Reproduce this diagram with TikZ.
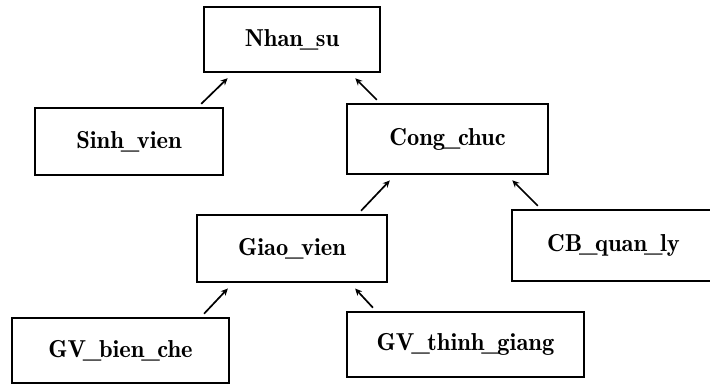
\documentclass[tikz,border=0pt]{standalone}
\usepackage{fontspec}
\setmainfont{Latin Modern Roman}
\newfontfamily\demifont{Latin Modern Roman Demi}
\usetikzlibrary{arrows.meta}
\tikzset{>={Stealth[length=7pt, width=6.5pt]}}
\newcommand\us{\kern-0.13em\_\kern-0.1em}
\tikzset{
  cls/.style={draw, line width=1.3pt, inner sep=0pt, font=\fontsize{24.5}{29}\demifont},
  isa/.style={->, line width=1.7pt, shorten <=5pt, shorten >=8pt}
}

\begin{document}
\begin{tikzpicture}[x=1pt, y=-1pt]
\clip (0,0) rectangle (710,385);
\node[cls, minimum width=176pt, minimum height=65pt] (nhan) at (292,39.5) {Nhan\us su};
\node[cls, minimum width=188pt, minimum height=67pt] (sinh) at (129,141.5) {Sinh\us vien};
\node[cls, minimum width=201pt, minimum height=70pt] (cong) at (447.5,139) {Cong\us chuc};
\node[cls, minimum width=190pt, minimum height=67pt] (giao) at (292,248.5) {Giao\us vien};
\node[cls, minimum width=203pt, minimum height=71pt] (cb) at (613.5,245.5) {CB\us quan\us ly};
\node[cls, minimum width=217pt, minimum height=65pt] (gvbc) at (120.5,350.5) {GV\us bien\us che};
\node[cls, minimum width=237pt, minimum height=65pt] (gvtg) at (465.5,344.5) {GV\us thinh\us giang};
% arrows to the parent class
\draw[isa] ([xshift=-26pt]sinh.north east) -- ([xshift=30pt]nhan.south west);
\draw[isa] ([xshift=34pt]cong.north west) -- ([xshift=-31pt]nhan.south east);
\draw[isa] ([xshift=-30pt]giao.north east) -- ([xshift=49pt]cong.south west);
\draw[isa] ([xshift=30pt]cb.north west) -- ([xshift=-42pt]cong.south east);
\draw[isa] ([xshift=-29pt]gvbc.north east) -- ([xshift=37pt]giao.south west);
\draw[isa] ([xshift=30pt]gvtg.north west) -- ([xshift=-38pt]giao.south east);
\end{tikzpicture}
\end{document}
